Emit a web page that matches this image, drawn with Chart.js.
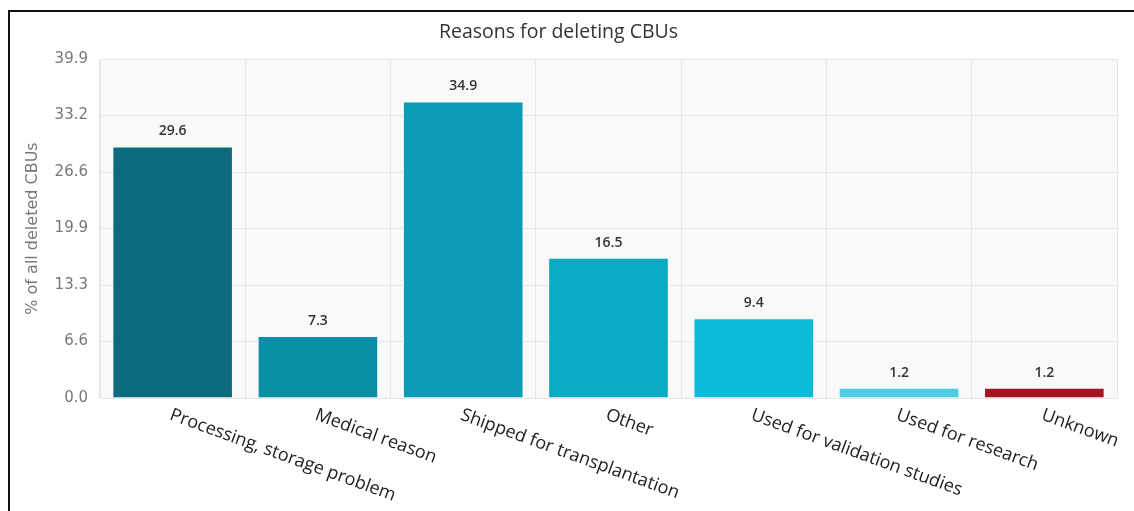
<!DOCTYPE html>
<html>
<head>
<meta charset="utf-8">
<script src="https://cdn.jsdelivr.net/npm/chart.js@4"></script>
<style>
  html, body { margin: 0; padding: 0; background: #fff; }
  #wrap { position: relative; width: 1134px; height: 511px; overflow: hidden; }
  #frame { position: absolute; left: 8px; top: 10px; right: 0; bottom: 0;
           border-top: 2px solid #111; border-left: 2px solid #111; pointer-events: none; }
  canvas { position: absolute; left: 0; top: 0; }
</style>
</head>
<body>
<div id="wrap">
  <canvas id="myChart" width="1134" height="511"></canvas>
  <div id="frame"></div>
</div>
<script>
const categories = ['Processing, storage problem', 'Medical reason', 'Shipped for transplantation',
  'Other', 'Used for validation studies', 'Used for research', 'Unknown'];
const values = [29.6, 7.3, 34.9, 16.5, 9.4, 1.2, 1.2];
const yTickLabels = ['0.0', '6.6', '13.3', '19.9', '26.6', '33.2', '39.9'];

const barColors = ['#0d6b7f', '#0a8ea6', '#0c9ab7', '#0aa9c6', '#0cbbdc', '#4ccde4', '#a3161f'];

// plot area background
const plotBg = {
  id: 'plotBg',
  beforeDraw(chart) {
    const {ctx, chartArea: a} = chart;
    ctx.save();
    ctx.fillStyle = '#f9f9f9';
    ctx.fillRect(a.left, a.top, a.right - a.left, a.bottom - a.top);
    ctx.restore();
  }
};

// value labels above bars
const valueLabels = {
  id: 'valueLabels',
  afterDatasetsDraw(chart) {
    const ctx = chart.ctx;
    ctx.save();
    ctx.font = '600 14px "Open Sans"';
    ctx.fillStyle = '#333';
    ctx.textAlign = 'center';
    ctx.textBaseline = 'middle';
    chart.getDatasetMeta(0).data.forEach((bar, i) => {
      ctx.fillText(values[i].toFixed(1), bar.x, bar.y - 15);
    });
    ctx.restore();
  }
};

// rotated category labels, starting at the tick and going down to the right
const xLabels = {
  id: 'xLabels',
  afterDraw(chart) {
    const {ctx, scales: {x}} = chart;
    ctx.save();
    ctx.font = '18px "Open Sans"';
    ctx.fillStyle = '#222';
    ctx.textAlign = 'left';
    ctx.textBaseline = 'top';
    categories.forEach((c, i) => {
      ctx.save();
      ctx.translate(x.getPixelForTick(i) + 1, x.top + 8);
      ctx.rotate(20 * Math.PI / 180);
      ctx.fillText(c, 0, 0);
      ctx.restore();
    });
    ctx.restore();
  }
};

const config = {
  type: 'bar',
  data: {
    labels: categories,
    datasets: [{
      data: values,
      backgroundColor: barColors,
      borderColor: 'rgba(235,250,252,0.9)',
      borderWidth: 1,
      barPercentage: 0.83,
      categoryPercentage: 1
    }]
  },
  options: {
    responsive: false,
    animation: false,
    layout: { padding: { left: 0, right: 17, top: 0, bottom: 0 } },
    plugins: {
      legend: { display: false },
      tooltip: { enabled: false },
      title: {
        display: true,
        text: 'Reasons for deleting CBUs',
        color: '#333',
        font: { family: '"Open Sans"', size: 19.5, weight: 'normal' },
        padding: { top: 21, bottom: 14.6 }
      }
    },
    scales: {
      x: {
        ticks: { display: false },
        grid: { color: '#e6e6e6', drawTicks: false },
        border: { color: '#e6e6e6' },
        afterFit(scale) { scale.height = 113; }
      },
      y: {
        min: 0,
        max: 39.9,
        ticks: {
          count: 7,
          padding: 12,
          color: '#777',
          font: { family: '"DejaVu Sans"', size: 15 },
          callback: (v, i) => yTickLabels[i]
        },
        grid: { color: '#e6e6e6', drawTicks: false },
        border: { color: '#e6e6e6' },
        title: {
          display: true,
          text: '% of all deleted CBUs',
          color: '#777',
          font: { family: '"DejaVu Sans"', size: 16 },
          padding: { top: 23, bottom: 0 }
        },
        afterFit(scale) { scale.width = 100; }
      }
    }
  },
  plugins: [plotBg, valueLabels, xLabels]
};

const myChart = new Chart(document.getElementById('myChart'), config);
</script>
</body>
</html>
